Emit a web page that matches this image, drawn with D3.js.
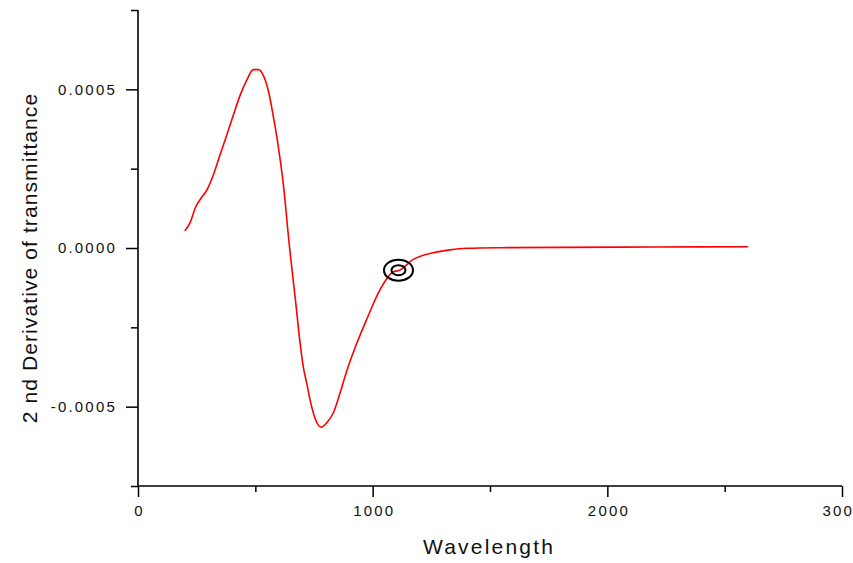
<!DOCTYPE html>
<html>
<head>
<meta charset="UTF-8"/>
<style>
  body { margin: 0; background: #fff; }
  text { font-family: "Liberation Sans", Arial, sans-serif; fill: #111; }
</style>
</head>
<body>
<script src="https://cdn.jsdelivr.net/npm/d3@7/dist/d3.min.js"></script>
<script>
// data (value in units of 1e-4)
var wavelength = [200, 222, 246, 268, 293, 321, 349, 378, 406, 435, 463, 491, 513, 534, 555,
                  577, 598, 619, 646, 671, 690, 704, 719, 733, 754, 780, 804, 832, 861, 889,
                  922, 974, 1031, 1088, 1112, 1173, 1258, 1329, 1400, 1542, 1800, 2200, 2600];
var deriv = [0.54, 0.80, 1.30, 1.56, 1.82, 2.30, 2.92, 3.55, 4.18, 4.81, 5.28, 5.62, 5.62, 5.44, 4.97,
             4.13, 3.19, 2.03, 0.00, -1.64, -2.95, -3.73, -4.26, -4.78, -5.36, -5.65, -5.51, -5.20, -4.57, -3.89,
             -3.20, -2.26, -1.32, -0.75, -0.71, -0.36, -0.15, -0.06, -0.01, 0.01, 0.02, 0.03, 0.04];
var marker = [1110, -0.70];

var xTicks = [0, 500, 1000, 1500, 2000, 2500, 3000];
var xLabels = [0, 1000, 2000, 3000];
var yTicks = [-7.5, -5, -2.5, 0, 2.5, 5, 7.5];
var yLabels = {"-5": "-0.0005", "0": "0.0000", "5": "0.0005"};

var W = 853, H = 563;
var padL = 138, padT = 10, padR = 842, padB = 486;

var svg = d3.select("body").append("svg")
    .attr("width", W)
    .attr("height", H);

var x = d3.scaleLinear().domain([0, 3000]).range([padL, padR]);
var y = d3.scaleLinear().domain([-7.5, 7.5]).range([padB, padT]);

// y axis
var yAxis = svg.append("g")
    .attr("transform", "translate(" + padL + ",0)")
    .call(d3.axisLeft(y)
      .tickValues(yTicks)
      .tickSize(12)
      .tickPadding(9)
      .tickFormat(function(d){ return yLabels[d] || ""; }));
yAxis.select(".domain").attr("stroke", "#000").attr("stroke-width", 1.6).attr("d", "M0," + padT + "V" + padB);
yAxis.selectAll(".tick line")
    .attr("stroke", "#000").attr("stroke-width", 1.5)
    .attr("x2", function(d){ return yLabels[d] ? -12 : -7; });
yAxis.selectAll(".tick text")
    .style("font-size", "15px")
    .style("letter-spacing", "2.2px");

// x axis
var xAxis = svg.append("g")
    .attr("transform", "translate(0," + padB + ")")
    .call(d3.axisBottom(x)
      .tickValues(xTicks)
      .tickSize(11)
      .tickPadding(8)
      .tickFormat(function(d){ return xLabels.indexOf(d) >= 0 ? d3.format("d")(d) : ""; }));
xAxis.select(".domain").attr("stroke", "#000").attr("stroke-width", 1.6).attr("d", "M" + padL + ",0H" + padR);
xAxis.selectAll(".tick line")
    .attr("stroke", "#000").attr("stroke-width", 1.5)
    .attr("y2", function(d){ return xLabels.indexOf(d) >= 0 ? 11 : 6; });
xAxis.selectAll(".tick text")
    .style("font-size", "15px")
    .style("letter-spacing", "2.2px")
    .attr("dx", "1.1px");

// axis titles
svg.append("text")
    .attr("x", (padL + padR) / 2 - 1)
    .attr("y", 554)
    .attr("text-anchor", "middle")
    .style("font-size", "21px")
    .style("letter-spacing", "2.2px")
    .text("Wavelength");

svg.append("text")
    .attr("transform", "translate(30,258) rotate(-90)")
    .attr("text-anchor", "middle")
    .attr("dy", "0.35em")
    .style("font-size", "21px")
    .style("letter-spacing", "1.1px")
    .text("2 nd Derivative of transmittance");

// the curve
var pts = wavelength.map(function(w, i){ return [w, deriv[i]]; });
var line = d3.line()
    .x(function(d){ return x(d[0]); })
    .y(function(d){ return y(d[1]); })
    .curve(d3.curveMonotoneX);

svg.append("path")
    .datum(pts)
    .attr("fill", "none")
    .attr("stroke", "#ff0000")
    .attr("stroke-width", 1.6)
    .attr("d", line);

// double ring marker
var mg = svg.append("g")
    .attr("transform", "translate(" + x(marker[0]) + "," + y(marker[1]) + ")");
mg.append("ellipse").attr("rx", 14.5).attr("ry", 10.5)
    .attr("fill", "none").attr("stroke", "#000").attr("stroke-width", 2);
mg.append("ellipse").attr("rx", 7).attr("ry", 5)
    .attr("fill", "none").attr("stroke", "#000").attr("stroke-width", 2);
</script>
</body>
</html>
